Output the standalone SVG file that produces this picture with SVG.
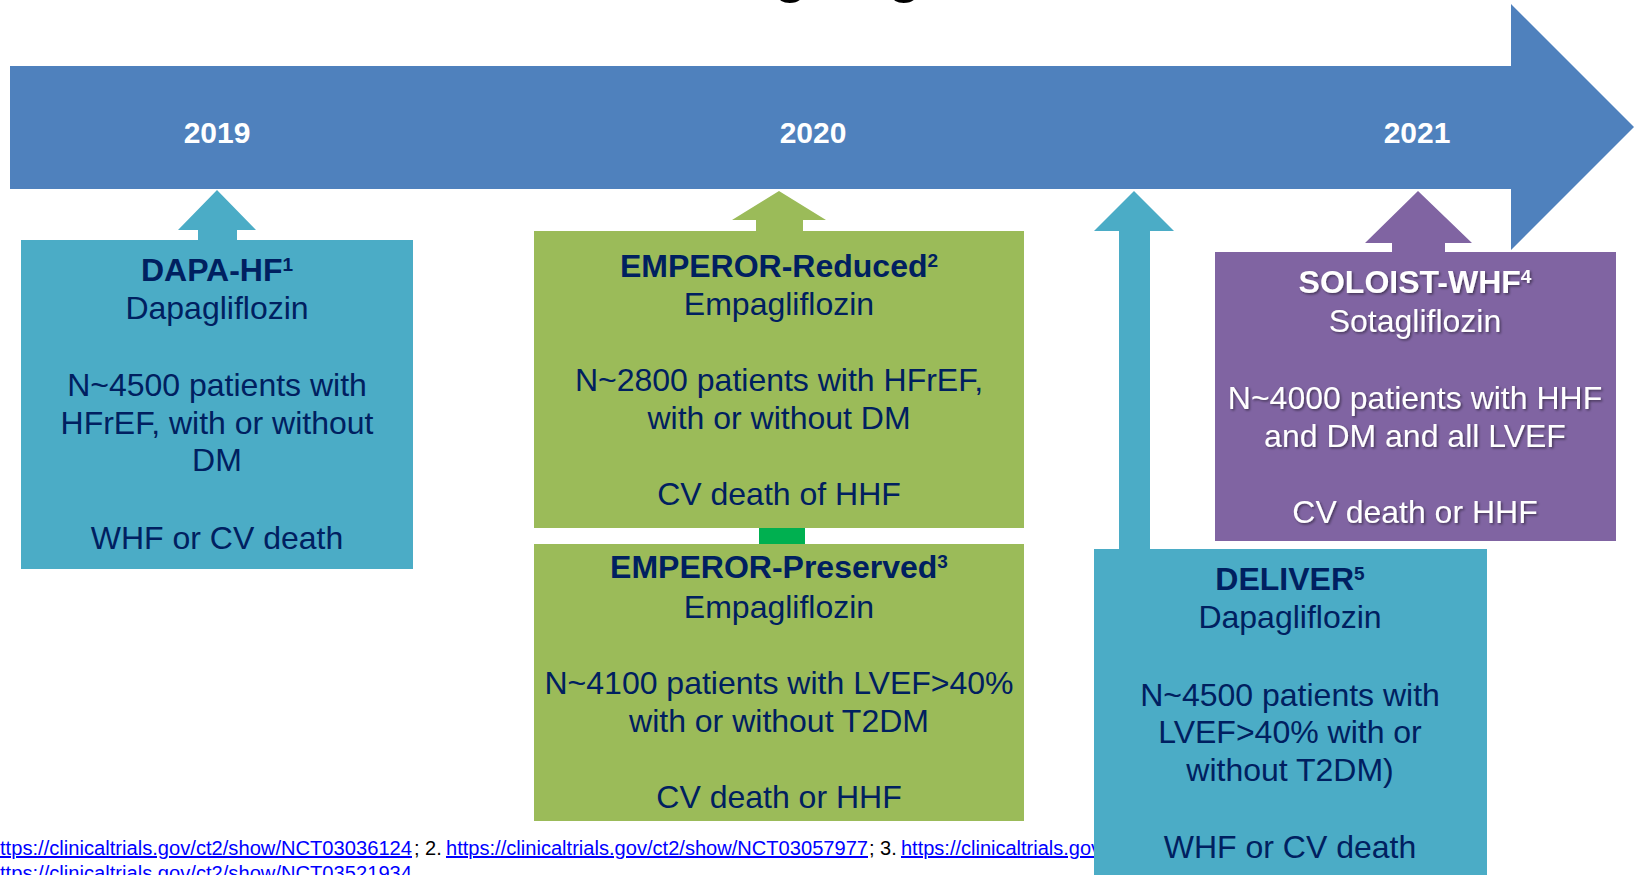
<svg xmlns="http://www.w3.org/2000/svg" width="1638" height="875" viewBox="0 0 1638 875">
  <style>
    text { font-family: "Liberation Sans", Arial, sans-serif; }
    .year { font-size: 30px; font-weight: bold; fill: #FFFFFF; text-anchor: middle; }
    .body { font-size: 32px; fill: #002060; text-anchor: middle; }
    .body-w { font-size: 32px; fill: #FFFFFF; text-anchor: middle; }
    .ttl { font-weight: bold; }
    .sup { font-size: 19px; }
    .title { font-size: 54px; font-weight: bold; fill: #000000; }
    .ref { font-size: 20px; fill: #000000; }
    .link { font-size: 20px; fill: #0000FF; text-decoration: underline; }
    .cyan { fill: #4BACC6; }
    .green { fill: #9BBB59; }
    .purple { fill: #8064A2; }
  </style>
  <defs>
    <filter id="shadow" x="-5%" y="-20%" width="110%" height="150%">
      <feDropShadow dx="1.5" dy="1.5" stdDeviation="1" flood-color="#000000" flood-opacity="0.45"/>
    </filter>
  </defs>

  <rect width="1638" height="875" fill="#FFFFFF"/>

  <!-- slide heading, sitting above the visible area -->
  <text class="title" x="699" y="-8">Ongoing</text>

  <!-- timeline arrow with year marks -->
  <g id="timeline">
    <polygon points="10,66 1511,66 1511,4 1634,127 1511,250 1511,189 10,189" fill="#4F81BD"/>
    <text class="year" x="217" y="143">2019</text>
    <text class="year" x="813" y="143">2020</text>
    <text class="year" x="1417" y="143">2021</text>
  </g>

  <!-- references -->
  <g id="references">
    <text class="link" x="0" y="855" textLength="412" lengthAdjust="spacingAndGlyphs">ttps://clinicaltrials.gov/ct2/show/NCT03036124</text>
    <text class="ref" x="414" y="855">; 2.</text>
    <text class="link" x="446" y="855" textLength="422" lengthAdjust="spacingAndGlyphs">https://clinicaltrials.gov/ct2/show/NCT03057977</text>
    <text class="ref" x="869" y="855">; 3.</text>
    <text class="link" x="901" y="855">https://clinicaltrials.gov</text>
    <text class="link" x="0" y="880" textLength="412" lengthAdjust="spacingAndGlyphs">ttps://clinicaltrials.gov/ct2/show/NCT03521934</text>
  </g>

  <!-- arrows pointing each trial to its year, plus the link between the two EMPEROR trials -->
  <g id="connectors">
    <polygon class="cyan" points="217,190 256,230 237,230 237,241 198,241 198,230 178,230"/>
    <polygon class="green" points="779,191 826,220 803,220 803,232 756,232 756,220 732,220"/>
    <polygon class="cyan" points="1134,191 1174,231 1150,231 1150,550 1119,550 1119,231 1094,231"/>
    <polygon class="purple" points="1418,191 1472,243 1445,243 1445,253 1392,253 1392,243 1365,243"/>
    <rect x="759" y="527" width="46" height="18" fill="#00B050"/>
  </g>

  <g id="node-dapa-hf">
    <rect class="cyan" x="21" y="240" width="392" height="329"/>
    <text class="body"><tspan class="ttl" x="217" y="281">DAPA-HF<tspan class="sup" dy="-10">1</tspan></tspan></text>
    <text class="body" x="217" y="319">Dapagliflozin</text>
    <text class="body" x="217" y="396">N~4500 patients with</text>
    <text class="body" x="217" y="434">HFrEF, with or without</text>
    <text class="body" x="217" y="471">DM</text>
    <text class="body" x="217" y="549">WHF or CV death</text>
  </g>

  <g id="node-emperor-reduced">
    <rect class="green" x="534" y="231" width="490" height="297"/>
    <text class="body"><tspan class="ttl" x="779" y="277">EMPEROR-Reduced<tspan class="sup" dy="-10">2</tspan></tspan></text>
    <text class="body" x="779" y="315">Empagliflozin</text>
    <text class="body" x="779" y="391">N~2800 patients with HFrEF,</text>
    <text class="body" x="779" y="429">with or without DM</text>
    <text class="body" x="779" y="505">CV death of HHF</text>
  </g>

  <g id="node-emperor-preserved">
    <rect class="green" x="534" y="544" width="490" height="277"/>
    <text class="body"><tspan class="ttl" x="779" y="578">EMPEROR-Preserved<tspan class="sup" dy="-10">3</tspan></tspan></text>
    <text class="body" x="779" y="618">Empagliflozin</text>
    <text class="body" x="779" y="694">N~4100 patients with LVEF&gt;40%</text>
    <text class="body" x="779" y="732">with or without T2DM</text>
    <text class="body" x="779" y="808">CV death or HHF</text>
  </g>

  <g id="node-soloist-whf">
    <rect class="purple" x="1215" y="252" width="401" height="289"/>
    <g filter="url(#shadow)">
      <text class="body-w"><tspan class="ttl" x="1415" y="293">SOLOIST-WHF<tspan class="sup" dy="-10">4</tspan></tspan></text>
      <text class="body-w" x="1415" y="332">Sotagliflozin</text>
      <text class="body-w" x="1415" y="409">N~4000 patients with HHF</text>
      <text class="body-w" x="1415" y="447">and DM and all LVEF</text>
      <text class="body-w" x="1415" y="523">CV death or HHF</text>
    </g>
  </g>

  <g id="node-deliver">
    <rect class="cyan" x="1094" y="549" width="393" height="330"/>
    <text class="body"><tspan class="ttl" x="1290" y="590">DELIVER<tspan class="sup" dy="-10">5</tspan></tspan></text>
    <text class="body" x="1290" y="628">Dapagliflozin</text>
    <text class="body" x="1290" y="706">N~4500 patients with</text>
    <text class="body" x="1290" y="743">LVEF&gt;40% with or</text>
    <text class="body" x="1290" y="781">without T2DM)</text>
    <text class="body" x="1290" y="858">WHF or CV death</text>
  </g>
</svg>
